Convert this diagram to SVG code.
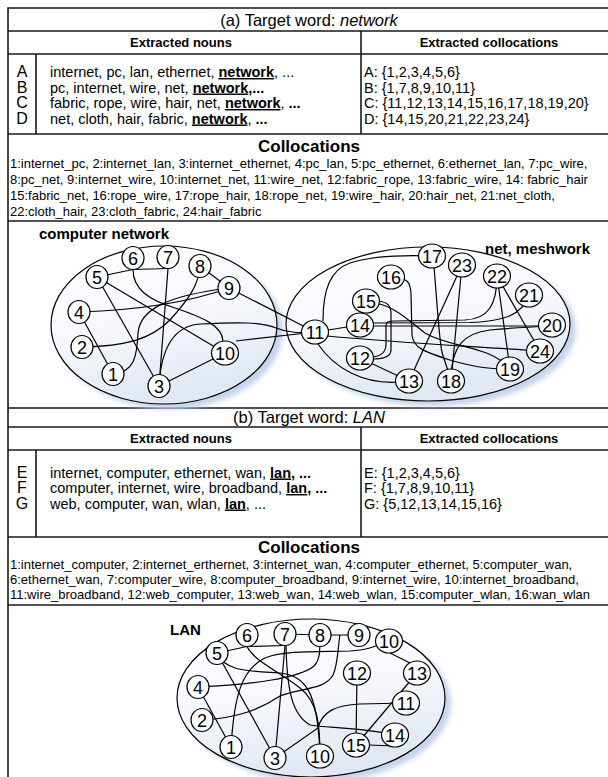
<svg xmlns="http://www.w3.org/2000/svg" width="608" height="777" viewBox="0 0 608 777">
  <style>
    .t { font-family: "Liberation Sans", Arial, sans-serif; fill: #000; }
    .title { font-size: 16.5px; text-anchor: middle; }
    .hdr { font-size: 13px; font-weight: bold; text-anchor: middle; }
    .letter { font-size: 16px; text-anchor: middle; }
    .row { font-size: 14.5px; }
    .sub { font-size: 17px; font-weight: bold; text-anchor: middle; }
    .list { font-size: 13px; }
    .glabel { font-size: 15px; font-weight: bold; }
    .kw { font-weight: bold; text-decoration: underline; }
    .b { font-weight: bold; }
    .tbl { fill: none; stroke: #1a1a1a; stroke-width: 1.6; }
    .cloud { fill: url(#cloudFill); stroke: #000; stroke-width: 1.2; }
    .shadow { fill: #c4d4eb; filter: url(#soft); }
    .edge { fill: none; stroke: #000; stroke-width: 1.2; }
    .node ellipse { fill: #fcfdff; stroke: #000; stroke-width: 1.2; }
    .node text { font-family: "Liberation Sans", Arial, sans-serif; font-size: 18px; text-anchor: middle; fill: #000; }
  </style>
  <defs>
    <linearGradient id="cloudFill" x1="0" y1="0" x2="0.3" y2="1">
      <stop offset="0" stop-color="#ffffff"/>
      <stop offset="0.55" stop-color="#f6f8fc"/>
      <stop offset="1" stop-color="#e1e8f3"/>
    </linearGradient>
    <filter id="soft" x="-20%" y="-20%" width="140%" height="140%">
      <feGaussianBlur stdDeviation="2.5"/>
    </filter>
  </defs>

  <rect width="608" height="777" fill="#fff"/>

  <!-- table frame and rules -->
  <g id="frame" class="tbl">
    <path d="M8 777 V8 H608"/>
    <path d="M8 31 H608 M8 54 H608 M8 134 H608 M8 221 H608"/>
    <path d="M36 54 V134 M361 31 V134"/>
    <path d="M8 408 H608 M8 427 H608 M8 450 H608 M8 537 H608 M8 605 H608"/>
    <path d="M36 450 V537 M361 427 V537"/>
  </g>

  <!-- (a) table text -->
  <g id="table-a">
    <text class="t title" x="309" y="25.5">(a) Target word: <tspan font-style="italic">network</tspan></text>
    <text class="t hdr" x="181" y="47">Extracted nouns</text>
    <text class="t hdr" x="489" y="47">Extracted collocations</text>
    <text class="t letter" x="22" y="77">A</text>
    <text class="t letter" x="22" y="92.5">B</text>
    <text class="t letter" x="22" y="108">C</text>
    <text class="t letter" x="22" y="123.5">D</text>
    <text class="t row" x="50" y="77">internet, pc, lan, ethernet, <tspan class="kw">network</tspan>, ...</text>
    <text class="t row" x="50" y="92.5">pc, internet, wire, net, <tspan class="kw">network</tspan><tspan class="b">,...</tspan></text>
    <text class="t row" x="50" y="108">fabric, rope, wire, hair, net, <tspan class="kw">network</tspan>, <tspan class="b">...</tspan></text>
    <text class="t row" x="50" y="123.5">net, cloth, hair, fabric, <tspan class="kw">network</tspan>, <tspan class="b">...</tspan></text>
    <text class="t row" x="364" y="77">A: {1,2,3,4,5,6}</text>
    <text class="t row" x="364" y="92.5">B: {1,7,8,9,10,11}</text>
    <text class="t row" x="364" y="108">C: {11,12,13,14,15,16,17,18,19,20}</text>
    <text class="t row" x="364" y="123.5">D: {14,15,20,21,22,23,24}</text>
    <text class="t sub" x="309" y="152">Collocations</text>
    <text class="t list" x="10" y="167.5">1:internet_pc, 2:internet_lan, 3:internet_ethernet, 4:pc_lan, 5:pc_ethernet, 6:ethernet_lan, 7:pc_wire,</text>
    <text class="t list" x="10" y="183.5">8:pc_net, 9:internet_wire, 10:internet_net, 11:wire_net, 12:fabric_rope, 13:fabric_wire, 14: fabric_hair</text>
    <text class="t list" x="10" y="199.5">15:fabric_net, 16:rope_wire, 17:rope_hair, 18:rope_net, 19:wire_hair, 20:hair_net, 21:net_cloth,</text>
    <text class="t list" x="10" y="215.5">22:cloth_hair, 23:cloth_fabric, 24:hair_fabric</text>
  </g>

  <!-- (a) sense clusters -->
  <g id="clusters-a">
    <ellipse class="shadow" cx="170" cy="330" rx="113" ry="79"/>
    <ellipse class="shadow" cx="434" cy="329" rx="142" ry="77"/>
    <ellipse class="cloud" cx="164" cy="325" rx="113" ry="79"/>
    <ellipse class="cloud" cx="428" cy="324" rx="142" ry="77"/>
    <text class="t glabel" x="39" y="239">computer network</text>
    <text class="t glabel" x="590" y="254" text-anchor="end">net, meshwork</text>
  </g>

  <!-- (a) connectors -->
  <g id="edges-a" class="edge">
    <path d="M97 277 L133 269.5 L168 268.5"/>
    <path d="M168 268.5 L159 386"/>
    <path d="M133 269.5 C133 290 150 300 175 308 C205 318 222 326 223 341"/>
    <path d="M97 277 L225 353"/>
    <path d="M97 277 L159 386"/>
    <path d="M79 312 L113 374"/>
    <path d="M79 312 C140 310 190 302 229 288"/>
    <path d="M82 347 C125 346 150 340 170 320 C188 300 199 285 200 266"/>
    <path d="M113 374 C135 372 137 355 138 333 C140 310 165 296 229 288"/>
    <path d="M200 266 L229 288"/>
    <path d="M229 288 L315 332"/>
    <path d="M236 341 L315 332"/>
    <path d="M159 386 L225 353"/>
    <path d="M159 386 C161 350 172 326 200 324 C240 322 262 322 276 328 C288 333 300 333 315 332"/>
    <path d="M315 332 L360 325"/>
    <path d="M323 321 C323 290 330 270 350 263 C372 256 405 255 432 256"/>
    <path d="M318 344 C332 365 362 388 409 381"/>
    <path d="M327 336 C400 343 470 346 540 351"/>
    <path d="M360 358 L409 381"/>
    <path d="M378 301 C388 302 391 306 391 314 L391 350 C391 356 386 359 373 359"/>
    <path d="M372 357 C382 356 386 352 386 344 L386 326 C386 322 388 321 394 321 L465 320 C488 319 497 305 497 276"/>
    <path d="M372 323 L470 322.5 C505 321 522 315 529 295"/>
    <path d="M360 326 L552 326"/>
    <path d="M409 381 L462 265"/>
    <path d="M451 381 L462 265"/>
    <path d="M434 267 C437 300 439 340 442 352 C444 360 447 366 451 381"/>
    <path d="M391 277 C408 277 411 283 411 295 L412 335 C413 348 425 352 450 360 C470 366 485 369 510 369"/>
    <path d="M366 301 C395 305 405 318 425 333 C450 348 490 345 510 369"/>
    <path d="M451 381 C451 345 465 333 490 330 C510 328 528 327 552 326"/>
    <path d="M497 276 L510 369"/>
    <path d="M497 276 L540 351"/>
  </g>

  <!-- (a) nodes -->
  <g id="a-n1" class="node"><ellipse cx="113" cy="374" rx="11" ry="11.5"/><text x="113" y="380.5">1</text></g>
  <g id="a-n2" class="node"><ellipse cx="82" cy="347" rx="11" ry="11.5"/><text x="82" y="353.5">2</text></g>
  <g id="a-n3" class="node"><ellipse cx="159" cy="386" rx="11" ry="11.5"/><text x="159" y="392.5">3</text></g>
  <g id="a-n4" class="node"><ellipse cx="79" cy="312" rx="11" ry="11.5"/><text x="79" y="318.5">4</text></g>
  <g id="a-n5" class="node"><ellipse cx="97" cy="277" rx="11" ry="11.5"/><text x="97" y="283.5">5</text></g>
  <g id="a-n6" class="node"><ellipse cx="133" cy="258" rx="11" ry="11.5"/><text x="133" y="264.5">6</text></g>
  <g id="a-n7" class="node"><ellipse cx="168" cy="257" rx="11" ry="11.5"/><text x="168" y="263.5">7</text></g>
  <g id="a-n8" class="node"><ellipse cx="200" cy="266" rx="11" ry="11.5"/><text x="200" y="272.5">8</text></g>
  <g id="a-n9" class="node"><ellipse cx="229" cy="288" rx="11" ry="11.5"/><text x="229" y="294.5">9</text></g>
  <g id="a-n10" class="node"><ellipse cx="225" cy="353" rx="13.5" ry="12"/><text x="225" y="359.5">10</text></g>
  <g id="a-n11" class="node"><ellipse cx="315" cy="332" rx="13.5" ry="12"/><text x="315" y="338.5">11</text></g>
  <g id="a-n12" class="node"><ellipse cx="360" cy="358" rx="13.5" ry="12"/><text x="360" y="364.5">12</text></g>
  <g id="a-n13" class="node"><ellipse cx="409" cy="381" rx="13.5" ry="12"/><text x="409" y="387.5">13</text></g>
  <g id="a-n14" class="node"><ellipse cx="360" cy="325" rx="13.5" ry="12"/><text x="360" y="331.5">14</text></g>
  <g id="a-n15" class="node"><ellipse cx="366" cy="301" rx="13.5" ry="12"/><text x="366" y="307.5">15</text></g>
  <g id="a-n16" class="node"><ellipse cx="391" cy="277" rx="13.5" ry="12"/><text x="391" y="283.5">16</text></g>
  <g id="a-n17" class="node"><ellipse cx="432" cy="256" rx="13.5" ry="12"/><text x="432" y="262.5">17</text></g>
  <g id="a-n18" class="node"><ellipse cx="451" cy="381" rx="13.5" ry="12"/><text x="451" y="387.5">18</text></g>
  <g id="a-n19" class="node"><ellipse cx="510" cy="369" rx="13.5" ry="12"/><text x="510" y="375.5">19</text></g>
  <g id="a-n20" class="node"><ellipse cx="552" cy="325" rx="13.5" ry="12"/><text x="552" y="331.5">20</text></g>
  <g id="a-n21" class="node"><ellipse cx="529" cy="295" rx="13.5" ry="12"/><text x="529" y="301.5">21</text></g>
  <g id="a-n22" class="node"><ellipse cx="497" cy="276" rx="13.5" ry="12"/><text x="497" y="282.5">22</text></g>
  <g id="a-n23" class="node"><ellipse cx="462" cy="265" rx="13.5" ry="12"/><text x="462" y="271.5">23</text></g>
  <g id="a-n24" class="node"><ellipse cx="540" cy="351" rx="13.5" ry="12"/><text x="540" y="357.5">24</text></g>

  <!-- (b) table text -->
  <g id="table-b">
    <text class="t title" x="309" y="423">(b) Target word: <tspan font-style="italic">LAN</tspan></text>
    <text class="t hdr" x="181" y="443">Extracted nouns</text>
    <text class="t hdr" x="489" y="443">Extracted collocations</text>
    <text class="t letter" x="22" y="477.5">E</text>
    <text class="t letter" x="22" y="493">F</text>
    <text class="t letter" x="22" y="508.5">G</text>
    <text class="t row" x="50" y="477.5">internet, computer, ethernet, wan, <tspan class="kw">lan</tspan><tspan class="b">, ...</tspan></text>
    <text class="t row" x="50" y="493">computer, internet, wire, broadband, <tspan class="kw">lan</tspan><tspan class="b">, ...</tspan></text>
    <text class="t row" x="50" y="508.5">web, computer, wan, wlan, <tspan class="kw">lan</tspan>, ...</text>
    <text class="t row" x="364" y="477.5">E: {1,2,3,4,5,6}</text>
    <text class="t row" x="364" y="493">F: {1,7,8,9,10,11}</text>
    <text class="t row" x="364" y="508.5">G: {5,12,13,14,15,16}</text>
    <text class="t sub" x="309" y="552.5">Collocations</text>
    <text class="t list" x="10" y="568.5">1:internet_computer, 2:internet_erthernet, 3:internet_wan, 4:computer_ethernet, 5:computer_wan,</text>
    <text class="t list" x="10" y="583.5">6:ethernet_wan, 7:computer_wire, 8:computer_broadband, 9:internet_wire, 10:internet_broadband,</text>
    <text class="t list" x="10" y="598.5">11:wire_broadband, 12:web_computer, 13:web_wan, 14:web_wlan, 15:computer_wlan, 16:wan_wlan</text>
  </g>

  <!-- (b) sense cluster -->
  <g id="cluster-b">
    <ellipse class="shadow" cx="317" cy="703" rx="134" ry="79"/>
    <ellipse class="cloud" cx="311" cy="698" rx="134" ry="79"/>
    <text class="t glabel" x="170" y="635">LAN</text>
  </g>

  <!-- (b) connectors -->
  <g id="edges-b" class="edge">
    <path d="M217 653 L247 646.5 L285 645.5"/>
    <path d="M285 645.5 L275 758"/>
    <path d="M286 645.5 C287 690 292 715 310 725 C325 728 360 727 395 735"/>
    <path d="M247 646.5 C255 662 280 672 300 688 C318 702 320 725 320 756"/>
    <path d="M217 653 C225 672 250 671 280 673 C305 676 318 690 320 756"/>
    <path d="M217 653 L275 758"/>
    <path d="M198 687 L231 747"/>
    <path d="M198 687 C250 685 300 678 314 666 C320 660 320 652 320 635"/>
    <path d="M202 720 C240 718 262 708 280 696 C300 688 325 690 333 675 C338 665 338 645 340 635"/>
    <path d="M231 747 C234 700 240 670 265 658 C285 650 320 652 350 651 C365 650 372 648 389 641"/>
    <path d="M285 634 L320 635 L359 635"/>
    <path d="M275 758 L318 728 C322 712 335 705 360 704 L406 703"/>
    <path d="M390 653 L410 663"/>
    <path d="M357 673 L356 745"/>
    <path d="M417 673 L356 745"/>
    <path d="M369 745 L393 746"/>
  </g>

  <!-- (b) nodes -->
  <g id="b-n1" class="node"><ellipse cx="231" cy="747" rx="11" ry="11.5"/><text x="231" y="753.5">1</text></g>
  <g id="b-n2" class="node"><ellipse cx="202" cy="720" rx="11" ry="11.5"/><text x="202" y="726.5">2</text></g>
  <g id="b-n3" class="node"><ellipse cx="275" cy="758" rx="11" ry="11.5"/><text x="275" y="764.5">3</text></g>
  <g id="b-n4" class="node"><ellipse cx="198" cy="687" rx="11" ry="11.5"/><text x="198" y="693.5">4</text></g>
  <g id="b-n5" class="node"><ellipse cx="217" cy="653" rx="11" ry="11.5"/><text x="217" y="659.5">5</text></g>
  <g id="b-n6" class="node"><ellipse cx="247" cy="635" rx="11" ry="11.5"/><text x="247" y="641.5">6</text></g>
  <g id="b-n7" class="node"><ellipse cx="285" cy="634" rx="11" ry="11.5"/><text x="285" y="640.5">7</text></g>
  <g id="b-n8" class="node"><ellipse cx="320" cy="635" rx="11" ry="11.5"/><text x="320" y="641.5">8</text></g>
  <g id="b-n9" class="node"><ellipse cx="359" cy="635" rx="11" ry="11.5"/><text x="359" y="641.5">9</text></g>
  <g id="b-n10-top" class="node"><ellipse cx="389" cy="641" rx="13.5" ry="12"/><text x="389" y="647.5">10</text></g>
  <g id="b-n10-low" class="node"><ellipse cx="320" cy="756" rx="13.5" ry="12"/><text x="320" y="762.5">10</text></g>
  <g id="b-n11" class="node"><ellipse cx="406" cy="703" rx="13.5" ry="12"/><text x="406" y="709.5">11</text></g>
  <g id="b-n12" class="node"><ellipse cx="357" cy="673" rx="13.5" ry="12"/><text x="357" y="679.5">12</text></g>
  <g id="b-n13" class="node"><ellipse cx="417" cy="673" rx="13.5" ry="12"/><text x="417" y="679.5">13</text></g>
  <g id="b-n14" class="node"><ellipse cx="395" cy="735" rx="13.5" ry="12"/><text x="395" y="741.5">14</text></g>
  <g id="b-n15" class="node"><ellipse cx="356" cy="745" rx="13.5" ry="12"/><text x="356" y="751.5">15</text></g>
</svg>
